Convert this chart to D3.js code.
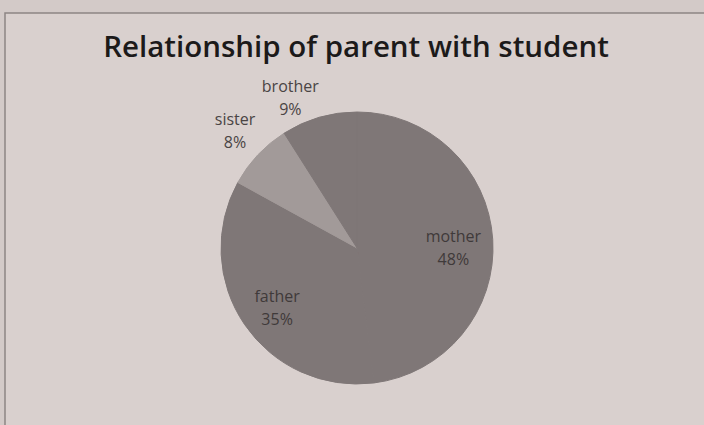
<!DOCTYPE html>
<html>
<head>
<meta charset="utf-8">
<script src="https://cdn.jsdelivr.net/npm/d3@7"></script>
<style>
  html, body { margin: 0; padding: 0; background: #d3cac8; }
  svg { display: block; }
</style>
</head>
<body>
<svg width="704" height="425"></svg>
<script>
// chart data
const categories = ["mother", "father", "sister", "brother"];
const shares = [48, 35, 8, 9];
const sliceColors = ["#7f7777", "#7f7777", "#a29a99", "#7f7777"];

const svg = d3.select("svg");
const width = 704, height = 425;
const cx = 357, cy = 248, radius = 136;

// paper + chart frame
svg.append("rect")
    .attr("width", width).attr("height", height)
    .attr("fill", "#d3cac8");
svg.append("rect")
    .attr("x", 5).attr("y", 13)
    .attr("width", width + 10).attr("height", height)
    .attr("fill", "#d9d0ce")
    .attr("stroke", "#8d8584")
    .attr("stroke-width", 1.5);

svg.append("text")
    .attr("x", 356).attr("y", 57)
    .attr("text-anchor", "middle")
    .attr("font-family", "'Open Sans', 'Liberation Sans', sans-serif")
    .attr("font-weight", "600")
    .attr("font-size", 29.5)
    .attr("fill", "#1c1a1a")
    .text("Relationship of parent with student");

const data = categories.map((c, i) => ({ name: c, value: shares[i], color: sliceColors[i] }));

const pie = d3.pie().sort(null).value(d => d.value);
const arcs = pie(data);

const arc = d3.arc().innerRadius(0).outerRadius(radius);
const insideArc = d3.arc().innerRadius(radius * 0.71).outerRadius(radius * 0.71);
const outsideArc = d3.arc().innerRadius(radius * 1.23).outerRadius(radius * 1.23);

const g = svg.append("g").attr("transform", `translate(${cx},${cy})`);

g.selectAll("path")
    .data(arcs)
    .enter().append("path")
        .attr("d", arc)
        .attr("fill", d => d.data.color)
        .attr("stroke", d => d.data.color)
        .attr("stroke-width", 1);

// small slices get their labels outside the pie
const isSmall = (d) => d.data.value < 10;
const labelPos = (d) => {
    const p = (isSmall(d) ? outsideArc : insideArc).centroid(d);
    if (d.data.name === "brother") { p[0] -= 20; p[1] += 13; }
    return p;
};

const labels = g.selectAll(".label")
    .data(arcs)
    .enter().append("text")
        .classed("label", true)
        .attr("transform", d => `translate(${labelPos(d)})`)
        .attr("text-anchor", "middle")
        .attr("font-family", "'Open Sans', 'Liberation Sans', sans-serif")
        .attr("font-size", 16)
        .attr("fill", d => isSmall(d) ? "#4a4444" : "#3f3a3a");

labels.append("tspan")
    .attr("x", 0).attr("dy", d => isSmall(d) ? "-0.55em" : "0em")
    .text(d => d.data.name);
labels.append("tspan")
    .attr("x", 0).attr("dy", "1.45em")
    .text(d => d.data.value + "%");
</script>
</body>
</html>
